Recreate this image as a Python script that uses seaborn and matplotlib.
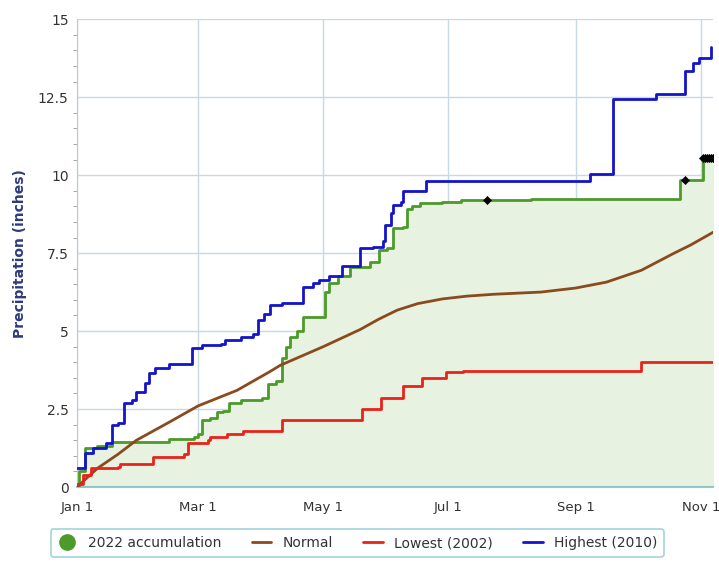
# Year-to-date precipitation accumulation vs normal / record years

import matplotlib
matplotlib.use('Agg')
import matplotlib.pyplot as plt
from matplotlib.lines import Line2D
from matplotlib.ticker import MultipleLocator
import seaborn as sns
import pandas as pd

# --- data (day of year offset from Jan 1, inches) ---
acc_days = [0, 1, 4, 10, 17, 45, 57, 59, 61, 65, 68, 71, 74, 80, 90, 93, 97, 100,
            102, 104, 107, 110, 121, 123, 127, 133, 143, 147, 151, 154, 159, 161,
            163, 167, 178, 187, 221, 294, 305, 310]
acc_vals = [0.0, 0.5, 1.25, 1.3, 1.45, 1.55, 1.6, 1.7, 2.15, 2.2, 2.4, 2.45, 2.7,
            2.8, 2.85, 3.3, 3.4, 4.15, 4.5, 4.8, 5.0, 5.45, 6.25, 6.55, 6.75, 7.05,
            7.2, 7.6, 7.65, 8.3, 8.35, 8.9, 9.0, 9.1, 9.15, 9.2, 9.25, 9.85, 10.55,
            10.55]

marker_days = [200, 296, 305, 306, 307, 308, 309, 310]
marker_vals = [9.2, 9.85, 10.55, 10.55, 10.55, 10.55, 10.55, 10.55]

normal_days = [0, 10, 20, 29, 45, 59, 78, 94, 99, 120, 138, 147, 156, 166, 178,
               190, 203, 226, 243, 258, 275, 291, 299, 310]
normal_vals = [0.0, 0.6, 1.05, 1.5, 2.08, 2.6, 3.1, 3.7, 3.9, 4.5, 5.05, 5.38,
               5.67, 5.88, 6.03, 6.12, 6.18, 6.25, 6.38, 6.57, 6.95, 7.5, 7.76, 8.17]

low_days = [0, 3, 7, 20, 21, 37, 52, 54, 64, 65, 73, 81, 100, 139, 148, 159, 168,
            180, 188, 275, 310]
low_vals = [0.1, 0.4, 0.6, 0.65, 0.75, 0.95, 1.05, 1.4, 1.5, 1.6, 1.7, 1.8, 2.15,
            2.5, 2.85, 3.25, 3.5, 3.7, 3.72, 4.0, 4.0]

high_days = [0, 4, 8, 14, 17, 20, 23, 27, 29, 33, 35, 38, 45, 56, 61, 70, 72, 80,
             86, 88, 91, 94, 100, 110, 115, 118, 123, 129, 138, 144, 149, 150, 153,
             154, 158, 159, 170, 250, 261, 282, 296, 300, 303, 309]
high_vals = [0.6, 1.1, 1.25, 1.4, 2.0, 2.05, 2.7, 2.8, 3.05, 3.35, 3.65, 3.8, 3.95,
             4.45, 4.55, 4.6, 4.7, 4.8, 4.9, 5.35, 5.55, 5.85, 5.9, 6.4, 6.55, 6.65,
             6.75, 7.1, 7.65, 7.7, 7.9, 8.4, 8.8, 9.05, 9.15, 9.5, 9.8, 10.05,
             12.45, 12.6, 13.35, 13.6, 13.75, 14.1]

tick_dates = ['2022-01-01', '2022-03-01', '2022-05-01', '2022-07-01', '2022-09-01', '2022-11-01']
tick_labels = ['Jan 1', 'Mar 1', 'May 1', 'Jul 1', 'Sep 1', 'Nov 1']
ytick_vals = [0, 2.5, 5, 7.5, 10, 12.5, 15]
ytick_labels = ['0', '2.5', '5', '7.5', '10', '12.5', '15']

START = pd.Timestamp('2022-01-01')


def to_df(days, vals):
    return pd.DataFrame({'date': START + pd.to_timedelta(days, unit='D'), 'inches': vals})


def main():
    sns.set_style('white')
    plt.rcParams['font.family'] = ['DejaVu Sans']

    acc = to_df(acc_days, acc_vals)
    marks = to_df(marker_days, marker_vals)
    normal = to_df(normal_days, normal_vals)
    low = to_df(low_days, low_vals)
    high = to_df(high_days, high_vals)

    green = '#4c9a2a'
    brown = '#8b4a1e'
    red = '#e8231c'
    blue = '#1414c8'

    fig = plt.figure(figsize=(7.19, 5.64), dpi=100)
    ax = fig.add_axes([0.107, 0.1365, 0.885, 0.8295])

    # 2022 accumulation with light fill
    ax.fill_between(acc['date'], acc['inches'], 0, step='post', color='#e7f2e0', zorder=1)
    sns.lineplot(data=acc, x='date', y='inches', ax=ax, color=green, lw=2,
                 drawstyle='steps-post', zorder=3)
    sns.lineplot(data=normal, x='date', y='inches', ax=ax, color=brown, lw=2, zorder=4)
    sns.lineplot(data=low, x='date', y='inches', ax=ax, color=red, lw=2,
                 drawstyle='steps-post', zorder=4)
    sns.lineplot(data=high, x='date', y='inches', ax=ax, color=blue, lw=2,
                 drawstyle='steps-post', zorder=5)
    sns.scatterplot(data=marks, x='date', y='inches', ax=ax, color='black', marker='D',
                    s=18, edgecolor='black', zorder=6)

    ax.set_xlim(START, START + pd.Timedelta(days=310))
    ax.set_ylim(0, 15)
    ax.set_xticks(pd.to_datetime(tick_dates))
    ax.set_xticklabels(tick_labels)
    ax.set_yticks(ytick_vals)
    ax.set_yticklabels(ytick_labels)
    ax.yaxis.set_minor_locator(MultipleLocator(0.5))

    ax.grid(True, which='major', color='#c7d9e3', lw=1, zorder=0)
    ax.set_axisbelow(True)
    for side in ['top', 'right']:
        ax.spines[side].set_visible(False)
    ax.spines['left'].set_color('#c0c8cc')
    ax.spines['bottom'].set_color('#8cc8d2')
    ax.spines['bottom'].set_linewidth(1.5)

    ax.tick_params(axis='x', which='major', length=6, color='#8cc8d2', labelsize=9.5,
                   labelcolor='#333333', pad=4)
    ax.tick_params(axis='y', which='major', length=0, labelsize=10, labelcolor='#333333', pad=6)
    ax.tick_params(axis='y', which='minor', length=3, color='#999999', left=True)

    ax.set_xlabel('')
    ax.set_ylabel('Precipitation (inches)', fontsize=10, color='#2d3b7c',
                  fontweight='bold', labelpad=8)

    handles = [
        Line2D([], [], color=green, marker='o', markersize=11, linestyle='None'),
        Line2D([], [], color=brown, lw=2),
        Line2D([], [], color=red, lw=2),
        Line2D([], [], color=blue, lw=2),
    ]
    labels = ['2022 accumulation', 'Normal', 'Lowest (2002)', 'Highest (2010)']
    leg = fig.legend(handles, labels, loc='lower center', bbox_to_anchor=(0.497, 0.0),
                     ncol=4, fontsize=10, frameon=True, fancybox=True, handlelength=1.4,
                     columnspacing=2.2, handletextpad=0.8, borderpad=0.5)
    leg.get_frame().set_edgecolor('#8cc8d2')
    leg.get_frame().set_linewidth(1.2)
    for t in leg.get_texts():
        t.set_color('#333333')

    plt.savefig('out.png', dpi=100)


if __name__ == '__main__':
    main()
